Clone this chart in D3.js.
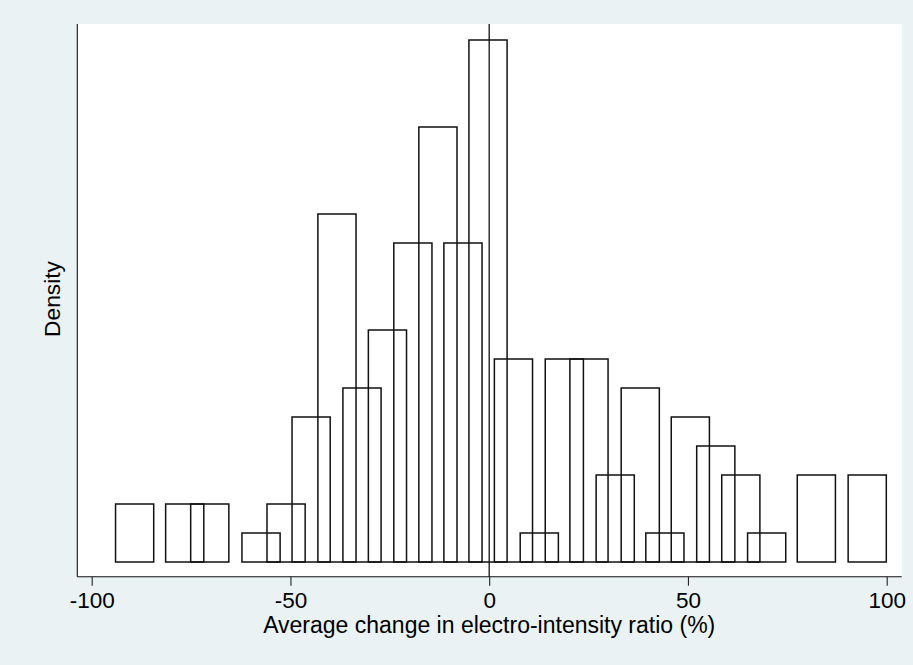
<!DOCTYPE html>
<html>
<head>
<meta charset="utf-8">
<script src="https://cdn.jsdelivr.net/npm/d3@7"></script>
<style>
  html, body { margin: 0; padding: 0; background: #eaf2f3; }
  svg { display: block; }
  text { font-family: "Liberation Sans", Arial, sans-serif; fill: #000; }
</style>
</head>
<body>
<svg id="chart" width="913" height="665"></svg>
<script>
// Bin centres (% change) and bar heights (counts, plotted as density)
const binCenters = [-89.2, -76.6, -70.3, -57.4, -51.1, -44.8, -38.3, -32.0, -25.6, -19.2,
                    -12.9, -6.6, -0.3, 6.1, 12.6, 18.9, 25.1, 31.7, 38.0, 44.2,
                    50.6, 57.0, 63.3, 69.8, 82.3, 95.1];
const binCounts = [2, 2, 2, 1, 2, 5, 12, 6, 8, 11,
                   15, 11, 18, 7, 1, 7, 7, 3, 6, 1,
                   5, 4, 3, 1, 3, 3];
const xTicks = [-100, -50, 0, 50, 100];
const xTitle = "Average change in electro-intensity ratio (%)";
const yTitle = "Density";
const barWidth = 9.6;   // bar width in data units
const refLine = 0;

const total = d3.sum(binCounts);
const density = binCounts.map(c => c / (total * barWidth));

const svg = d3.select("#chart");
const W = 913, H = 665;
const plot = { left: 77.3, right: 901.7, top: 24, bottom: 576.7 };

svg.append("rect").attr("width", W).attr("height", H).attr("fill", "#eaf2f3");
svg.append("rect")
  .attr("x", plot.left).attr("y", plot.top)
  .attr("width", plot.right - plot.left).attr("height", plot.bottom - plot.top)
  .attr("fill", "#fff");

const x = d3.scaleLinear().domain([-100, 100]).range([91.7, 886.7]);
const maxD = d3.max(density);
const y = d3.scaleLinear().domain([0, maxD]).range([562, 40]);

// bars
svg.append("g").selectAll("rect")
  .data(binCenters.map((c, i) => ({ c, d: density[i] })))
  .join("rect")
  .attr("x", d => x(d.c - barWidth / 2))
  .attr("y", d => y(d.d))
  .attr("width", d => x(d.c + barWidth / 2) - x(d.c - barWidth / 2))
  .attr("height", d => y(0) - y(d.d))
  .attr("fill", "none")
  .attr("stroke", "#111")
  .attr("stroke-width", 1.5);

// reference line at 0
svg.append("line")
  .attr("x1", x(refLine)).attr("x2", x(refLine))
  .attr("y1", plot.top).attr("y2", plot.bottom)
  .attr("stroke", "#111").attr("stroke-width", 1.3);

// axis lines
svg.append("line")
  .attr("x1", plot.left).attr("x2", plot.right)
  .attr("y1", plot.bottom).attr("y2", plot.bottom)
  .attr("stroke", "#111").attr("stroke-width", 1.1);
svg.append("line")
  .attr("x1", plot.left).attr("x2", plot.left)
  .attr("y1", plot.top).attr("y2", plot.bottom)
  .attr("stroke", "#111").attr("stroke-width", 1.1);

// x axis ticks
const xAxis = d3.axisBottom(x).tickValues(xTicks).tickSize(9).tickPadding(6)
  .tickFormat(d3.format("d"));
const gx = svg.append("g").attr("transform", `translate(0,${plot.bottom})`).call(xAxis);
gx.select(".domain").remove();
gx.selectAll(".tick line").attr("stroke", "#222").attr("stroke-width", 1.1);
gx.selectAll(".tick text")
  .attr("font-family", '"Liberation Sans", Arial, sans-serif')
  .attr("font-size", 22.5).attr("fill", "#000")
  .text(d => d < 0 ? "-" + Math.abs(d) : d);

// titles
svg.append("text")
  .attr("x", x(0)).attr("y", 632.7)
  .attr("text-anchor", "middle")
  .attr("font-size", 23)
  .text(xTitle);
svg.append("text")
  .attr("transform", "translate(60,299) rotate(-90)")
  .attr("text-anchor", "middle")
  .attr("font-size", 22.8)
  .text(yTitle);
</script>
</body>
</html>
